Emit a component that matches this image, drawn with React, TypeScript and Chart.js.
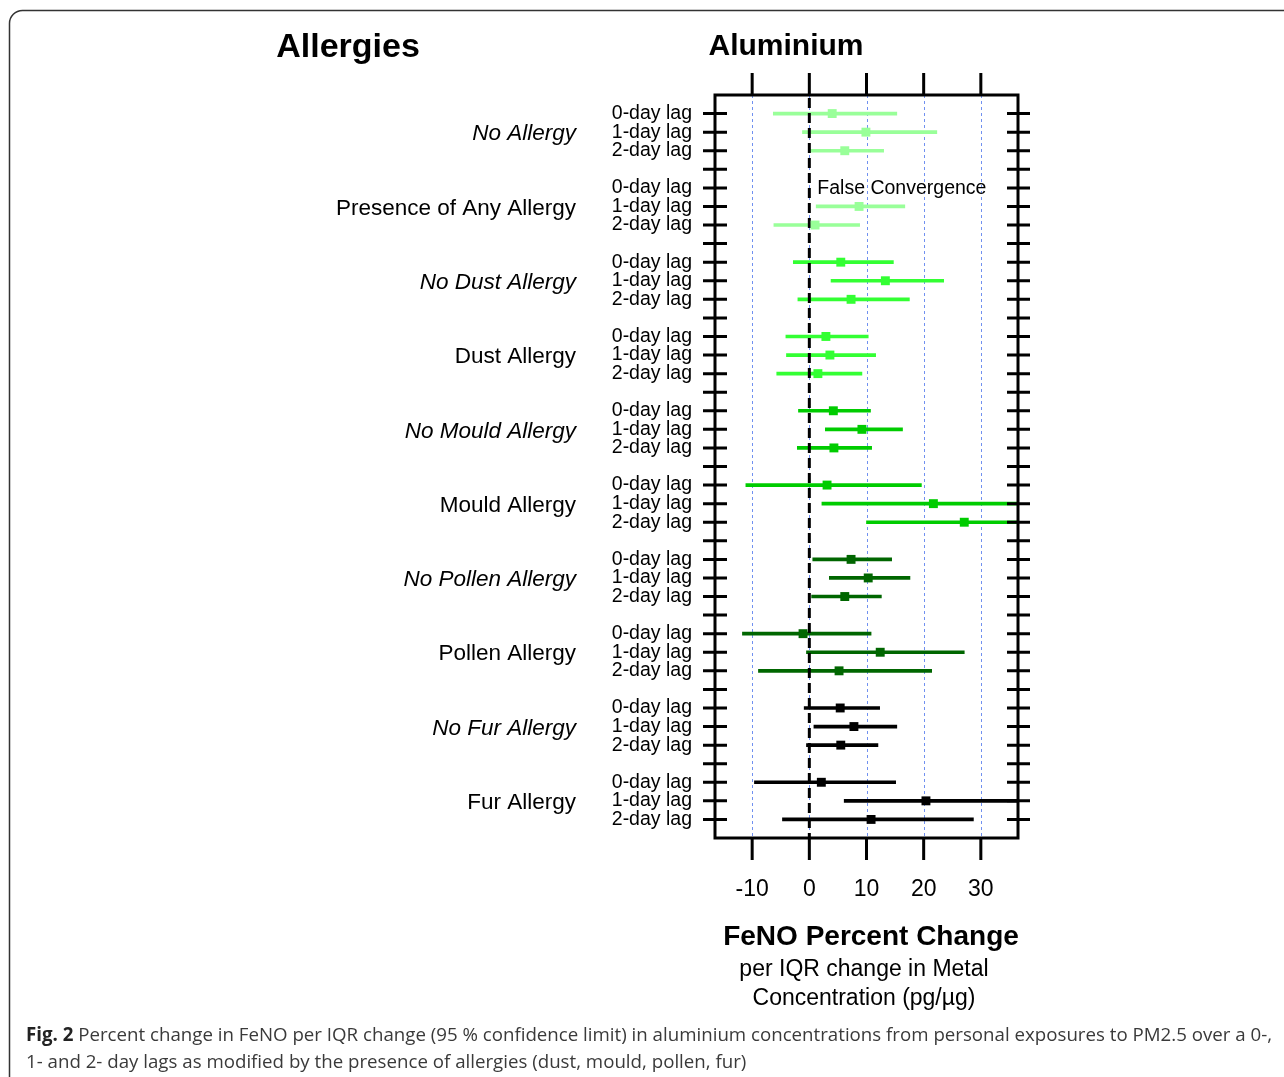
import React, { useEffect, useRef } from 'react';
import { Chart, registerables } from 'chart.js';

Chart.register(...registerables);

// ---------- data ----------
const groups = [
  'No Allergy',
  'Presence of Any Allergy',
  'No Dust Allergy',
  'Dust Allergy',
  'No Mould Allergy',
  'Mould Allergy',
  'No Pollen Allergy',
  'Pollen Allergy',
  'No Fur Allergy',
  'Fur Allergy',
];
const groupItalic = [true, false, true, false, true, false, true, false, true, false];
const groupColors = [
  '#99ff99', '#99ff99',
  '#33ff33', '#33ff33',
  '#00cc00', '#00cc00',
  '#006600', '#006600',
  '#000000', '#000000',
];
const lagLabels = ['0-day lag', '1-day lag', '2-day lag'];

// three rows (0-, 1-, 2-day lag) per group
const estimate = [
  4.0, 9.9, 6.2,
  null, 8.7, 1.0,
  5.5, 13.3, 7.3,
  2.9, 3.6, 1.5,
  4.2, 9.2, 4.3,
  3.1, 21.7, 27.1,
  7.3, 10.3, 6.2,
  -1.1, 12.4, 5.2,
  5.4, 7.8, 5.5,
  2.1, 20.4, 10.8,
];
const lower = [
  -6.3, -1.2, 0.0,
  null, 1.2, -6.2,
  -2.8, 3.8, -2.0,
  -4.1, -4.0, -5.7,
  -1.9, 2.8, -2.1,
  -11.1, 2.2, 10.0,
  0.6, 3.5, 0.4,
  -11.7, -0.5, -8.9,
  -0.9, 0.8, -0.5,
  -9.6, 6.1, -4.7,
];
const upper = [
  15.3, 22.3, 13.0,
  null, 16.7, 8.8,
  14.7, 23.5, 17.5,
  10.3, 11.6, 9.2,
  10.7, 16.3, 10.9,
  19.6, 38.0, 38.0,
  14.4, 17.6, 12.6,
  10.8, 27.1, 21.4,
  12.3, 15.3, 12.0,
  15.1, 38.0, 28.7,
];
const xTickValues = [-10, 0, 10, 20, 30];
const noteText = 'False Convergence';
const noteRow = 3; // group 1, row 0

const plotTitle = 'Allergies';
const panelTitle = 'Aluminium';
const axisTitle = 'FeNO Percent Change';
const axisSub1 = 'per IQR change in Metal';
const axisSub2 = 'Concentration (pg/\u00b5g)';
const captionBold = 'Fig. 2';
const captionLine1 =
  ' Percent change in FeNO per IQR change (95 % confidence limit) in aluminium concentrations from personal exposures to PM2.5 over a 0-,';
const captionLine2 =
  '1- and 2- day lags as modified by the presence of allergies (dust, mould, pollen, fur)';

// ---------- helpers ----------
const rowSlot = (i: number) => Math.floor(i / 3) * 4 + (i % 3);
const slotCount = groups.length * 4 - 1; // 39 positions (0..38)
const slots = Array.from({ length: slotCount }, (_, i) => i);

const FONT = '"Liberation Sans", Arial, Helvetica, sans-serif';

const W = 1284;
const H = 1077;

const decor = {
  id: 'decor',
  beforeDraw(chart: any) {
    const ctx = chart.ctx;
    ctx.save();
    ctx.fillStyle = '#ffffff';
    ctx.fillRect(0, 0, W, H);

    // rounded outer frame
    ctx.strokeStyle = '#333333';
    ctx.lineWidth = 1.5;
    ctx.beginPath();
    ctx.moveTo(9.5, H + 5);
    ctx.lineTo(9.5, 24);
    ctx.arcTo(9.5, 10.5, 24, 10.5, 13);
    ctx.lineTo(W + 5, 10.5);
    ctx.stroke();

    ctx.fillStyle = '#000';
    ctx.textBaseline = 'middle';
    ctx.textAlign = 'center';
    ctx.font = `bold 34px ${FONT}`;
    ctx.fillText(plotTitle, 348, 48);
    ctx.font = `bold 30px ${FONT}`;
    ctx.fillText(panelTitle, 786, 47);

    ctx.font = `bold 28px ${FONT}`;
    ctx.fillText(axisTitle, 871, 937);
    ctx.font = `23px ${FONT}`;
    ctx.fillText(axisSub1, 864, 970);
    ctx.fillText(axisSub2, 864, 999);

    // caption
    ctx.textAlign = 'left';
    ctx.textBaseline = 'alphabetic';
    ctx.font = `bold 18.7px "Open Sans", sans-serif`;
    ctx.fillStyle = '#222';
    ctx.fillText(captionBold, 26, 1041);
    const bw = ctx.measureText(captionBold).width;
    ctx.font = `18.7px "Open Sans", sans-serif`;
    ctx.fillStyle = '#3a3a3a';
    ctx.fillText(captionLine1, 26 + bw, 1041);
    ctx.fillText(captionLine2, 26, 1068);
    ctx.restore();
  },
  beforeDatasetsDraw(chart: any) {
    const { ctx, chartArea } = chart;
    const xs = chart.scales.x;
    ctx.save();
    ctx.strokeStyle = '#7090f0';
    ctx.lineWidth = 1;
    ctx.setLineDash([3, 3]);
    xTickValues.forEach((v) => {
      const px = Math.round(xs.getPixelForValue(v)) + 0.5;
      ctx.beginPath();
      ctx.moveTo(px, chartArea.top);
      ctx.lineTo(px, chartArea.bottom);
      ctx.stroke();
    });
    ctx.restore();
  },
  afterDatasetDraw(chart: any, args: any) {
    if (args.meta.type !== 'bar') return;
    const { ctx, chartArea } = chart;
    const xs = chart.scales.x;
    const px = xs.getPixelForValue(0);
    ctx.save();
    ctx.strokeStyle = '#000';
    ctx.lineWidth = 3;
    ctx.setLineDash([10, 5]);
    ctx.beginPath();
    ctx.moveTo(px, chartArea.top + 3);
    ctx.lineTo(px, chartArea.bottom);
    ctx.stroke();
    ctx.restore();
  },
  afterDraw(chart: any) {
    const { ctx, chartArea } = chart;
    const xs = chart.scales.x;
    const ys = chart.scales.y;
    const { left, right, top, bottom } = chartArea;
    ctx.save();
    ctx.strokeStyle = '#000';
    ctx.lineWidth = 3;
    ctx.strokeRect(left, top, right - left, bottom - top);
    ctx.beginPath();
    slots.forEach((s) => {
      const py = ys.getPixelForValue(s);
      ctx.moveTo(left - 12, py);
      ctx.lineTo(left + 12, py);
      ctx.moveTo(right - 11, py);
      ctx.lineTo(right + 12, py);
    });
    xTickValues.forEach((v) => {
      const px = xs.getPixelForValue(v);
      ctx.moveTo(px, top - 22);
      ctx.lineTo(px, top);
      ctx.moveTo(px, bottom);
      ctx.lineTo(px, bottom + 22);
    });
    ctx.stroke();

    // group labels
    ctx.fillStyle = '#000';
    ctx.textAlign = 'right';
    ctx.textBaseline = 'middle';
    groups.forEach((g, gi) => {
      ctx.font = `${groupItalic[gi] ? 'italic ' : ''}22.5px ${FONT}`;
      ctx.fillText(g, 576, ys.getPixelForValue(gi * 4 + 1) + 2);
    });

    // note
    ctx.textAlign = 'left';
    ctx.font = `19.5px ${FONT}`;
    ctx.fillText(noteText, xs.getPixelForValue(0) + 8, ys.getPixelForValue(rowSlot(noteRow)) + 1);
    ctx.restore();
  },
};

export default function App() {
  const ref = useRef<HTMLCanvasElement | null>(null);

  useEffect(() => {
    document.body.style.margin = '0';
    const canvas = ref.current;
    if (!canvas) return;

    const barData: any[] = [];
    const barColors: string[] = [];
    const pointData: any[] = [];
    const pointColors: string[] = [];
    estimate.forEach((e, i) => {
      const col = groupColors[Math.floor(i / 3)];
      const slot = rowSlot(i);
      if (lower[i] != null && upper[i] != null) {
        barData.push({ x: [lower[i], upper[i]], y: slot });
        barColors.push(col);
      }
      if (e != null) {
        pointData.push({ x: e, y: slot });
        pointColors.push(col);
      }
    });

    const chart = new Chart(canvas, {
      type: 'bar',
      data: {
        datasets: [
          {
            type: 'bar',
            indexAxis: 'y',
            data: barData,
            backgroundColor: barColors,
            borderWidth: 0,
            barThickness: 3,
            grouped: false,
            order: 2,
          } as any,
          {
            type: 'scatter',
            data: pointData,
            pointStyle: 'rect',
            pointRadius: 6.3,
            pointBorderWidth: 0,
            pointBackgroundColor: pointColors,
            order: 1,
          } as any,
        ],
      },
      options: {
        indexAxis: 'y',
        responsive: false,
        animation: false,
        events: [],
        layout: { padding: { left: 0, right: W - 1018, top: 95, bottom: 0 } },
        plugins: { legend: { display: false }, tooltip: { enabled: false } },
        scales: {
          x: {
            type: 'linear',
            min: -16.5,
            max: 36.5,
            offset: false,
            beginAtZero: false,
            afterBuildTicks: (s: any) => {
              s.ticks = xTickValues.map((v) => ({ value: v }));
            },
            ticks: {
              padding: 38,
              autoSkip: false,
              maxRotation: 0,
              color: '#000',
              font: { family: FONT, size: 23 },
              callback: (v: any) => String(v),
            },
            grid: { display: false, drawTicks: false, offset: false },
            border: { display: false },
            afterFit: (s: any) => {
              s.height = H - 838;
            },
          },
          y: {
            type: 'linear',
            reverse: true,
            min: -1,
            max: slotCount,
            offset: false,
            beginAtZero: false,
            afterBuildTicks: (s: any) => {
              s.ticks = slots.map((v) => ({ value: v }));
            },
            ticks: {
              padding: 23,
              autoSkip: false,
              color: '#000',
              font: { family: FONT, size: 19.5 },
              callback: (v: any) => {
                const r = Number(v) % 4;
                return r < 3 ? lagLabels[r] : '';
              },
            },
            grid: { display: false, drawTicks: false, offset: false },
            border: { display: false },
            afterFit: (s: any) => {
              s.width = 715;
            },
          },
        },
      } as any,
      plugins: [decor],
    });

    return () => chart.destroy();
  }, []);

  return (
    <div style={{ position: 'absolute', left: 0, top: 0, width: W, height: H }}>
      <canvas ref={ref} width={W} height={H} style={{ display: 'block' }} />
    </div>
  );
}
